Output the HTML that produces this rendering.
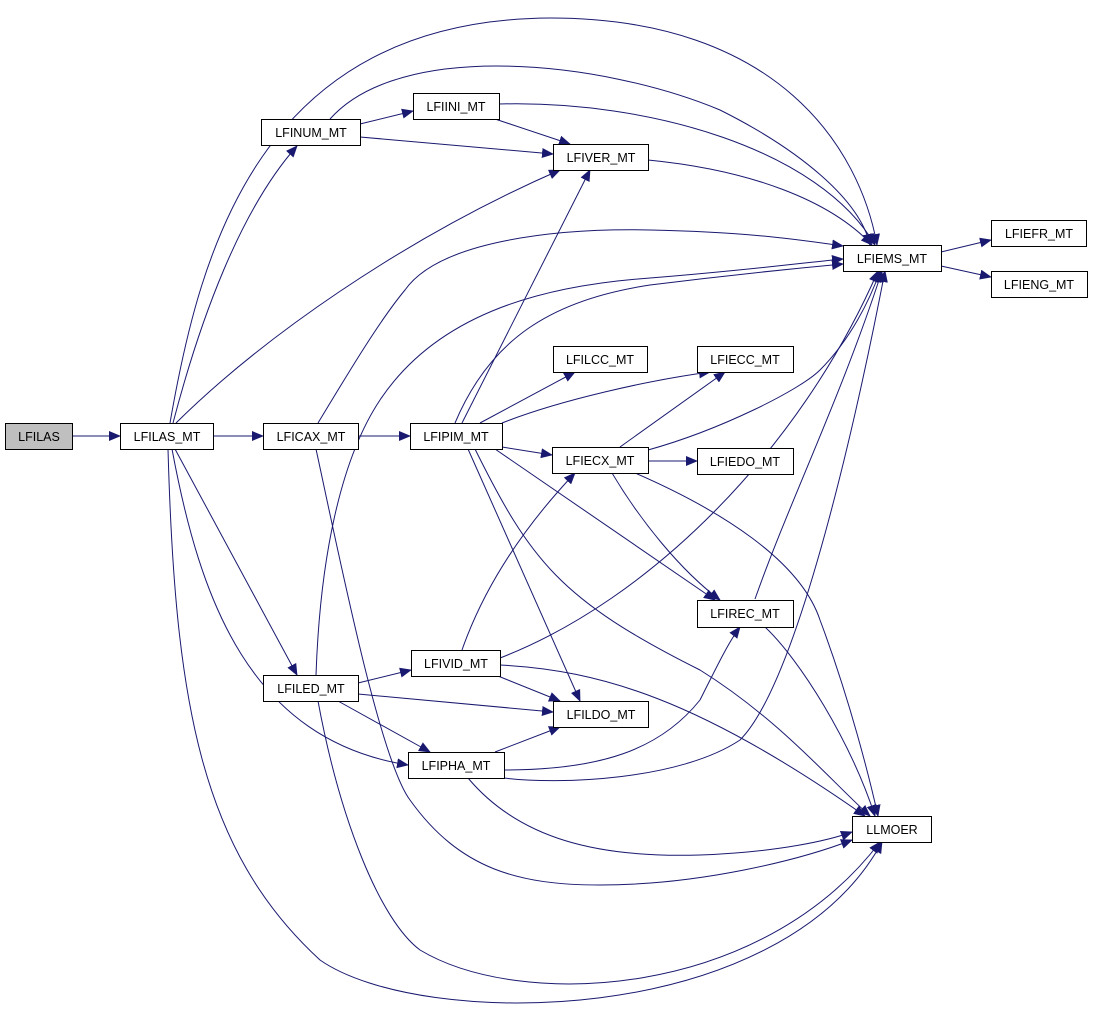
<!DOCTYPE html>
<html><head><meta charset="utf-8"><style>
body{margin:0;background:#fff}
svg text{font-family:"Liberation Sans",sans-serif;font-size:12.5px;fill:#000}
</style></head><body>
<svg width="1093" height="1025" viewBox="0 0 1093 1025" xmlns="http://www.w3.org/2000/svg">
<defs><marker id="a" markerUnits="userSpaceOnUse" markerWidth="12" markerHeight="10" refX="11" refY="5" orient="auto"><path d="M0,0 L12,5 L0,10 z" fill="#191970"/></marker></defs>
<g fill="none" stroke="#191970" stroke-width="1" marker-end="url(#a)">
<path d="M72,436 L120,436"/>
<path d="M213,436 L263,436"/>
<path d="M358,436 L410,436"/>
<path d="M173,423 C200,320 240,210 297,146"/>
<path d="M170,423 C200,250 260,20 550,18 C780,18 860,150 877,245"/>
<path d="M176,423 C260,340 400,240 560,170"/>
<path d="M175,449 L297,675"/>
<path d="M172,449 C200,600 250,740 408,765"/>
<path d="M168,449 C175,700 200,850 320,960 C420,1030 780,1030 882,842"/>
<path d="M360,124 L413,111"/>
<path d="M360,137 L553,154"/>
<path d="M330,119 C400,40 600,60 720,110 C800,150 860,200 870,245"/>
<path d="M495,119 L570,144"/>
<path d="M499,104 C650,100 820,150 875,245"/>
<path d="M648,160 C750,170 830,200 872,245"/>
<path d="M318,423 C350,370 380,320 405,290 C440,240 560,228 650,230 C750,232 800,240 843,246"/>
<path d="M316,449 C340,560 380,760 410,800 C460,870 520,885 600,885 C700,885 800,860 852,840"/>
<path d="M462,423 L590,170"/>
<path d="M455,423 C490,340 550,300 650,285 C730,275 800,268 843,264"/>
<path d="M480,423 L575,372"/>
<path d="M502,423 C560,400 650,380 710,372"/>
<path d="M502,447 L552,455"/>
<path d="M495,449 L715,600"/>
<path d="M468,449 L580,701"/>
<path d="M475,449 C530,560 560,600 700,670 C780,720 830,780 870,816"/>
<path d="M620,447 L725,372"/>
<path d="M648,461 L697,461"/>
<path d="M648,450 C720,430 800,390 820,370 C850,340 870,300 880,271"/>
<path d="M612,473 C640,520 680,570 720,600"/>
<path d="M635,473 C720,510 800,560 820,620 C850,700 870,780 878,816"/>
<path d="M755,599 C790,500 840,400 882,271"/>
<path d="M765,627 C800,660 850,740 875,816"/>
<path d="M358,683 L411,670"/>
<path d="M358,694 L553,712"/>
<path d="M338,701 L430,752"/>
<path d="M316,675 C320,560 340,460 380,400 C440,310 550,285 650,278 C750,270 810,262 843,259"/>
<path d="M318,701 C340,820 380,920 420,950 C520,1010 760,1000 880,842"/>
<path d="M462,650 C490,570 540,510 575,473"/>
<path d="M500,658 C650,600 800,450 878,271"/>
<path d="M498,676 L560,701"/>
<path d="M500,665 C600,670 700,700 865,816"/>
<path d="M495,752 L560,727"/>
<path d="M504,770 C600,770 660,750 700,700 C720,660 730,640 740,627"/>
<path d="M504,778 C560,785 680,780 740,740 C800,680 860,400 885,271"/>
<path d="M468,778 C520,840 600,858 700,855 C780,852 830,840 852,832"/>
<path d="M941,252 L991,240"/>
<path d="M941,266 L991,277"/>
</g>
<g stroke="#000" stroke-width="1">
<rect x="5.5" y="423.5" width="67" height="26" fill="#bfbfbf"/>
<rect x="120.5" y="423.5" width="93" height="26" fill="#fff"/>
<rect x="263.5" y="423.5" width="95" height="26" fill="#fff"/>
<rect x="410.5" y="423.5" width="92" height="26" fill="#fff"/>
<rect x="261.5" y="119.5" width="99" height="26" fill="#fff"/>
<rect x="413.5" y="93.5" width="86" height="26" fill="#fff"/>
<rect x="553.5" y="144.5" width="95" height="26" fill="#fff"/>
<rect x="843.5" y="245.5" width="98" height="26" fill="#fff"/>
<rect x="991.5" y="220.5" width="95" height="26" fill="#fff"/>
<rect x="991.5" y="271.5" width="96" height="26" fill="#fff"/>
<rect x="553.5" y="346.5" width="94" height="26" fill="#fff"/>
<rect x="697.5" y="346.5" width="96" height="26" fill="#fff"/>
<rect x="552.5" y="447.5" width="96" height="26" fill="#fff"/>
<rect x="697.5" y="448.5" width="96" height="26" fill="#fff"/>
<rect x="697.5" y="600.5" width="96" height="27" fill="#fff"/>
<rect x="263.5" y="675.5" width="95" height="26" fill="#fff"/>
<rect x="411.5" y="650.5" width="89" height="26" fill="#fff"/>
<rect x="553.5" y="701.5" width="95" height="26" fill="#fff"/>
<rect x="408.5" y="752.5" width="96" height="26" fill="#fff"/>
<rect x="852.5" y="816.5" width="79" height="26" fill="#fff"/>
</g>
<g text-anchor="middle">
<text x="39" y="441">LFILAS</text>
<text x="167" y="441">LFILAS_MT</text>
<text x="311" y="441">LFICAX_MT</text>
<text x="456" y="441">LFIPIM_MT</text>
<text x="311" y="137">LFINUM_MT</text>
<text x="456" y="111">LFIINI_MT</text>
<text x="601" y="162">LFIVER_MT</text>
<text x="892" y="263">LFIEMS_MT</text>
<text x="1039" y="238">LFIEFR_MT</text>
<text x="1039" y="289">LFIENG_MT</text>
<text x="600" y="364">LFILCC_MT</text>
<text x="745" y="364">LFIECC_MT</text>
<text x="600" y="465">LFIECX_MT</text>
<text x="745" y="466">LFIEDO_MT</text>
<text x="745" y="618">LFIREC_MT</text>
<text x="311" y="693">LFILED_MT</text>
<text x="456" y="668">LFIVID_MT</text>
<text x="601" y="719">LFILDO_MT</text>
<text x="456" y="770">LFIPHA_MT</text>
<text x="892" y="834">LLMOER</text>
</g>
</svg>
</body></html>
